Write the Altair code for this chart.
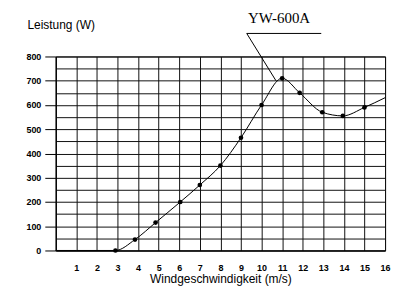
import altair as alt
import pandas as pd

# Data
wind = [0, 1, 2, 2.9, 3.85, 4.85, 6.05, 7, 8, 9, 10, 11, 11.85, 12.95, 13.95, 15, 16]
power = [0, 0, 0, 0, 45, 115, 200, 270, 350, 465, 600, 710, 650, 570, 555, 590, 630]
marked = [False, False, False, True, True, True, True, True, True, True, True, True, True, True, True, True, False]

label_text = ["YW-600A"]
leader_x = [9.28, 9.28]
leader_y = [895, 895]
leader_x2 = [10.7, 12.9]
leader_y2 = [700, 895]

df = pd.DataFrame({"wind": wind, "power": power, "marked": marked})

xs = alt.Scale(domain=[0, 16], nice=False, zero=False)
ys = alt.Scale(domain=[0, 800], nice=False)

x_axis = alt.Axis(
    values=list(range(0, 17)), grid=True, gridColor="#111", gridOpacity=1, gridWidth=1,
    labelExpr="datum.value == 0 ? '' : datum.label", tickSize=0, labelPadding=13,
    labelOverlap=False, labelFlush=False,
    labelFont="Liberation Sans", labelFontSize=9, labelColor="black", labelFontWeight="bold",
    domainColor="black", title="Windgeschwindigkeit (m/s)", titleFont="Liberation Sans",
    titleFontSize=12, titleFontWeight="normal", titleColor="black", titleY=28, titleBaseline="middle",
)
y_axis = alt.Axis(
    values=list(range(0, 801, 50)), grid=True, gridColor="#111", gridOpacity=1, gridWidth=1,
    labelExpr="datum.value % 100 == 0 ? datum.label : ''", tickSize=11,
    labelOverlap=False, labelFlush=False,
    tickColor="black", tickOpacity={"condition": {"test": "datum.value % 100 == 0", "value": 1}, "value": 0},
    labelPadding=4, labelFont="Liberation Sans", labelFontSize=9, labelColor="black", labelFontWeight="bold",
    domainColor="black", title="Leistung (W)", titleAngle=0, titleAlign="left", titleX=-29, titleY=-32,
    titleBaseline="middle", titleFont="Liberation Sans", titleFontSize=12, titleFontWeight="normal",
    titleColor="black",
)

def X(field):
    return alt.X(field, type="quantitative", scale=xs, axis=x_axis)

def Y(field):
    return alt.Y(field, type="quantitative", scale=ys, axis=y_axis)

base = alt.Chart(df)
line = base.mark_line(color="black", strokeWidth=1, interpolate="monotone").encode(
    x=X("wind"), y=Y("power"),
)
pts = base.transform_filter("datum.marked").mark_point(
    filled=True, color="black", size=22, shape="circle", opacity=1
).encode(x=X("wind"), y=Y("power"))

ann = pd.DataFrame({"x": leader_x, "y": leader_y, "x2": leader_x2, "y2": leader_y2})
leader = alt.Chart(ann).mark_rule(color="black", strokeWidth=1, clip=False).encode(
    x=X("x"), y=Y("y"), x2="x2:Q", y2="y2:Q",
)
txt = alt.Chart(pd.DataFrame({"t": label_text, "x": [10.85], "y": [958]})).mark_text(
    font="Liberation Serif", fontSize=15, color="black", clip=False, baseline="middle"
).encode(x=X("x"), y=Y("y"), text="t:N")

chart = alt.layer(line, pts, leader, txt).properties(
    width=331, height=195,
    autosize=alt.AutoSizeParams(type="none"),
    padding={"left": 48, "top": 48, "right": 10, "bottom": 40},
    background="white",
).configure_view(stroke="black", strokeWidth=1)

chart.save("out.html", embed_options={"renderer": "svg", "actions": False})
